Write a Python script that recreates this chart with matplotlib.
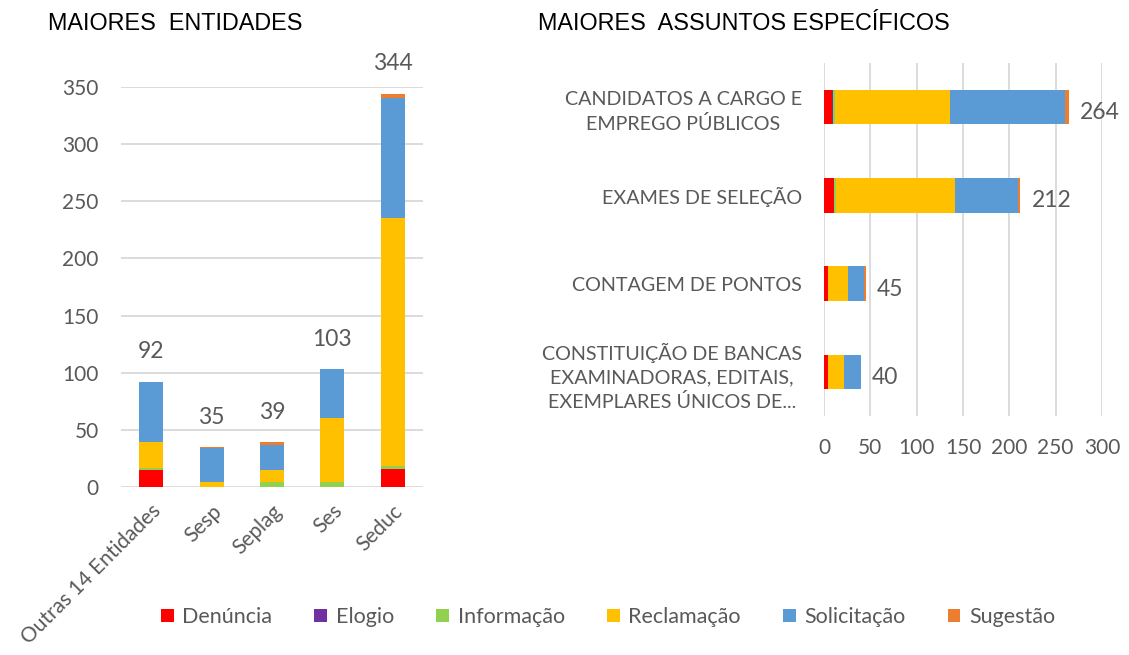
import matplotlib.pyplot as plt
import numpy as np

# ------ data ------
tipos = ['Denúncia', 'Elogio', 'Informação', 'Reclamação', 'Solicitação', 'Sugestão']
cores = ['#FF0000', '#7030A0', '#92D050', '#FFC000', '#5B9BD5', '#ED7D31']

entidades = ['Outras 14 Entidades', 'Sesp', 'Seplag', 'Ses', 'Seduc']
ent_denuncia = [15, 0, 0, 0, 16]
ent_elogio = [0, 0, 0, 0, 0]
ent_informacao = [2, 0, 4, 4, 2]
ent_reclamacao = [22, 4, 11, 56, 217]
ent_solicitacao = [53, 30, 22, 43, 105]
ent_sugestao = [0, 1, 2, 0, 4]
ent_totais = [92, 35, 39, 103, 344]

assuntos = ['CANDIDATOS A CARGO E\nEMPREGO PÚBLICOS',
            'EXAMES DE SELEÇÃO',
            'CONTAGEM DE PONTOS',
            'CONSTITUIÇÃO DE BANCAS\nEXAMINADORAS, EDITAIS,\nEXEMPLARES ÚNICOS DE...']
ass_denuncia = [9, 11, 4, 4]
ass_elogio = [1, 0, 0, 0]
ass_informacao = [2, 2, 0, 0]
ass_reclamacao = [124, 128, 22, 18]
ass_solicitacao = [124, 68, 17, 18]
ass_sugestao = [4, 3, 2, 0]
ass_totais = [264, 212, 45, 40]

CINZA = '#595959'
GRADE = '#D9D9D9'
FONTE = ['Lato', 'DejaVu Sans']


def main():
    plt.rcParams['font.family'] = FONTE
    fig = plt.figure(figsize=(11.29, 6.55), dpi=100)

    # ---- left: maiores entidades ----
    ax1 = fig.add_axes([121 / 1129, 168 / 655, 302 / 1129, 400 / 655])
    series = [ent_denuncia, ent_elogio, ent_informacao,
              ent_reclamacao, ent_solicitacao, ent_sugestao]
    x = np.arange(len(entidades))
    base = np.zeros(len(entidades))
    for vals, cor, nome in zip(series, cores, tipos):
        ax1.bar(x, vals, bottom=base, width=0.4, color=cor, label=nome, zorder=3)
        base += np.array(vals)
    for xi, tot in zip(x, ent_totais):
        ax1.annotate(str(tot), (xi, tot), xytext=(0, 14), textcoords='offset points',
                     ha='center', va='bottom', fontsize=16.5, color=CINZA,
                     annotation_clip=False)
    ax1.set_xlim(-0.5, len(entidades) - 0.5)
    ax1.set_ylim(0, 350)
    ax1.set_yticks(range(0, 351, 50))
    ax1.yaxis.grid(True, color=GRADE, linewidth=1.3, zorder=0)
    ax1.set_xticks(x)
    ax1.set_xticklabels(entidades, rotation=45, ha='right', rotation_mode='anchor')
    ax1.tick_params(axis='both', length=0, labelsize=15, colors=CINZA)
    ax1.tick_params(axis='y', pad=16)
    ax1.tick_params(axis='x', pad=10)
    for s in ax1.spines.values():
        s.set_visible(False)

    # ---- right: maiores assuntos ----
    ax2 = fig.add_axes([824 / 1129, 239 / 655, 278 / 1129, 353 / 655])
    series2 = [ass_denuncia, ass_elogio, ass_informacao,
               ass_reclamacao, ass_solicitacao, ass_sugestao]
    y = np.arange(len(assuntos))
    base = np.zeros(len(assuntos))
    for vals, cor in zip(series2, cores):
        ax2.barh(y, vals, left=base, height=0.39, color=cor, zorder=3)
        base += np.array(vals)
    for yi, tot in zip(y, ass_totais):
        ax2.annotate(str(tot), (tot, yi), xytext=(8, -4), textcoords='offset points',
                     ha='left', va='center', fontsize=16.5, color=CINZA,
                     annotation_clip=False)
    ax2.set_ylim(len(assuntos) - 0.5, -0.5)
    ax2.set_xlim(0, 300)
    ax2.set_xticks(range(0, 301, 50))
    ax2.xaxis.grid(True, color=GRADE, linewidth=1.3, zorder=0)
    ax2.set_yticks(y)
    ax2.set_yticklabels(assuntos, multialignment='center', linespacing=1.45)
    ax2.tick_params(axis='both', length=0, labelsize=15, colors=CINZA)
    ax2.tick_params(axis='y', pad=16, labelsize=14.2)
    ax2.tick_params(axis='x', pad=16)
    for s in ax2.spines.values():
        s.set_visible(False)

    # ---- titles ----
    fig.text(48 / 1129, 1 - 30 / 655, 'MAIORES  ENTIDADES', fontsize=16.8,
             family='Liberation Sans', color='black', va='baseline')
    fig.text(538 / 1129, 1 - 30 / 655, 'MAIORES  ASSUNTOS ESPECÍFICOS', fontsize=16.8,
             family='Liberation Sans', color='black', va='baseline')

    # ---- legend ----
    h, l = ax1.get_legend_handles_labels()
    fig.legend(h, l, loc='center', bbox_to_anchor=(608 / 1129, 1 - 617 / 655),
               ncol=6, frameon=False, fontsize=15.5, handlelength=0.6,
               handleheight=0.6, handletextpad=0.4, columnspacing=1.95,
               labelcolor=CINZA)

    fig.savefig('out.png', dpi=100)


if __name__ == "__main__":
    main()
